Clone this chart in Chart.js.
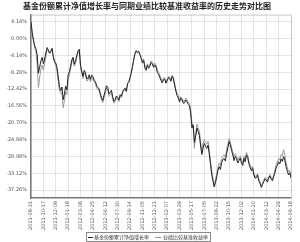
<!DOCTYPE html>
<html>
<head>
<meta charset="utf-8">
<script src="https://cdn.jsdelivr.net/npm/chart.js@4"></script>
<style>
    html, body { margin: 0; padding: 0; background: #fff; }
    #wrap { width: 300px; height: 242px; }
</style>
</head>
<body>
<div id="wrap"><canvas id="trendChart" width="300" height="242"></canvas></div>
<script>

const titleText = "基金份额累计净值增长率与同期业绩比较基准收益率的历史走势对比图";

const seriesNames = ["基金份额累计净值增长率", "业绩比较基准收益率"];

const xLabels = [
    "2011-08-31", "2011-10-17", "2011-12-09", "2012-01-18", "2012-03-08",
    "2012-04-25", "2012-06-12", "2012-07-30", "2012-09-14", "2012-11-05",
    "2012-12-21", "2013-02-07", "2013-03-29", "2013-05-17", "2013-07-05",
    "2013-08-22", "2013-10-15", "2013-12-02", "2014-01-20", "2014-03-12",
    "2014-04-29", "2014-06-18"
];

const yTicks = [4.14, 0, -4.14, -8.28, -12.42, -16.56, -20.70, -24.84, -28.98, -33.12, -37.26];

// fund cumulative NAV growth (%)
const fundValues = [
    4.1, 1.5, -0.5, -1.8, -2.5, -4.0, -8.5, -7.0, -5.5, -4.6,
    -6.2, -5.0, -3.5, -2.2, -2.8, -3.6, -3.2, -2.4, -4.4, -5.6,
    -6.0, -7.1, -9.5, -11.8, -12.8, -11.9, -15.0, -13.6, -11.7, -12.6,
    -9.0, -8.1, -6.8, -5.2, -4.6, -6.3, -5.4, -4.1, -3.0, -2.6,
    -6.5, -8.0, -9.3, -7.8, -8.4, -9.9, -9.8, -8.9, -10.0, -9.0,
    -9.3, -10.2, -10.5, -11.6, -12.0, -12.4, -13.5, -14.6, -15.2, -13.9,
    -12.8, -11.6, -12.0, -13.6, -13.2, -12.7, -14.4, -15.4, -15.0, -14.1,
    -14.5, -15.1, -13.8, -14.2, -13.0, -12.5, -12.2, -12.9, -11.0, -10.6,
    -9.5, -8.4, -6.8, -5.1, -3.6, -3.0, -3.5, -3.2, -4.0, -4.9,
    -6.0, -5.4, -7.2, -7.8, -6.6, -7.3, -6.8, -5.9, -6.2, -7.1,
    -6.5, -7.0, -8.3, -8.8, -9.5, -10.3, -10.9, -10.1, -10.0, -11.0,
    -10.4, -9.6, -9.8, -10.5, -9.3, -9.9, -11.5, -12.9, -14.0, -14.6,
    -15.6, -14.7, -15.0, -15.9, -15.8, -15.1, -15.5, -16.2, -16.5, -18.5,
    -22.0, -21.2, -25.5, -24.0, -22.0, -22.8, -23.8, -26.4, -28.5, -26.9,
    -25.8, -26.5, -27.0, -26.2, -28.5, -31.0, -33.5, -35.1, -36.5, -35.4,
    -34.0, -32.4, -31.5, -32.2, -30.5, -29.7, -29.5, -30.1, -28.2, -26.9,
    -25.3, -26.1, -27.5, -28.6, -30.0, -29.0, -29.5, -30.6, -30.0, -29.4,
    -30.6, -31.2, -29.5, -30.3, -28.6, -29.2, -30.8, -31.7, -32.5, -31.9,
    -33.5, -34.3, -34.2, -33.6, -35.0, -35.6, -36.6, -35.9, -35.2, -34.5,
    -34.8, -35.3, -34.3, -33.8, -34.6, -35.0, -34.0, -33.0, -31.8, -31.1,
    -30.3, -30.8, -29.6, -30.2, -29.0, -29.9, -31.5, -32.6, -33.5, -33.0,
    -34.3
];

// benchmark return (%)
const benchValues = [
    3.0, 0.6, -0.2, -2.4, -3.0, -6.5, -12.0, -9.5, -7.5, -6.5,
    -7.8, -6.3, -4.5, -2.8, -3.0, -3.6, -3.0, -2.5, -4.6, -6.0,
    -6.5, -7.9, -10.5, -12.7, -13.5, -13.3, -17.0, -15.2, -13.0, -13.8,
    -10.0, -8.9, -7.5, -5.8, -5.0, -6.8, -6.0, -4.7, -3.5, -3.1,
    -7.0, -8.5, -9.8, -8.4, -9.0, -10.4, -10.3, -9.5, -10.6, -9.6,
    -9.8, -10.7, -11.0, -12.1, -12.5, -12.9, -14.0, -15.2, -15.8, -14.5,
    -13.4, -12.2, -12.6, -14.2, -13.8, -13.3, -15.0, -15.9, -15.5, -14.5,
    -14.8, -15.5, -14.2, -14.5, -13.3, -12.8, -12.5, -13.1, -11.2, -10.9,
    -9.8, -8.6, -7.0, -5.3, -3.8, -3.0, -3.3, -3.0, -3.8, -4.6,
    -5.6, -5.0, -6.8, -7.4, -6.2, -6.8, -6.3, -5.5, -5.8, -6.6,
    -6.0, -6.5, -7.8, -8.3, -9.0, -9.8, -10.4, -9.7, -9.6, -10.6,
    -10.0, -9.3, -9.5, -10.2, -9.0, -9.5, -11.0, -12.4, -13.5, -14.0,
    -15.0, -14.3, -14.6, -15.4, -15.3, -14.6, -15.0, -15.7, -16.0, -17.5,
    -20.5, -21.8, -27.0, -23.5, -21.0, -21.9, -22.8, -25.4, -27.5, -25.9,
    -24.8, -25.5, -26.0, -25.2, -27.5, -30.0, -32.5, -34.4, -36.0, -34.7,
    -33.2, -31.6, -30.6, -31.2, -29.5, -28.8, -28.6, -29.2, -27.3, -26.1,
    -24.6, -25.4, -26.8, -27.9, -29.2, -28.3, -28.8, -29.9, -29.3, -28.8,
    -30.0, -30.6, -28.9, -29.7, -28.0, -28.6, -30.2, -31.1, -31.9, -31.4,
    -33.0, -33.9, -33.8, -33.2, -34.6, -35.2, -36.2, -35.5, -34.8, -34.1,
    -34.4, -34.9, -33.9, -33.4, -34.2, -34.6, -33.5, -32.3, -31.0, -30.3,
    -29.5, -29.9, -28.5, -28.8, -27.3, -28.6, -30.5, -31.7, -32.8, -32.4,
    -33.8
];

const labelStep = 10;

function toPoints(values){
    return values.map((v, i) => ({ x: i, y: v }));
}

// light top/right frame and the boxed legend under the axis labels
const framePlugin = {
    id: "framePlugin",
    afterDraw(chart){
        const c = chart.ctx;
        const a = chart.chartArea;

        c.save();
        c.strokeStyle = "#c8c8c8";
        c.lineWidth = 1;
        c.beginPath();
        c.moveTo(a.left, a.top + 0.5);
        c.lineTo(a.right + 0.5, a.top + 0.5);
        c.lineTo(a.right + 0.5, a.bottom);
        c.stroke();

        const lx = 86, ly = 232, lw = 124, lh = 9;
        c.strokeStyle = "#888";
        c.strokeRect(lx + 0.5, ly + 0.5, lw, lh);

        c.font = "5px 'Noto Sans CJK SC'";
        c.textBaseline = "middle";
        c.fillStyle = "#333";

        c.strokeStyle = "#222";
        c.beginPath();
        c.moveTo(88, ly + 5.5);
        c.lineTo(93, ly + 5.5);
        c.stroke();
        c.fillText(seriesNames[0], 94, ly + 5.5);

        c.strokeStyle = "#999";
        c.beginPath();
        c.moveTo(155, ly + 5.5);
        c.lineTo(161, ly + 5.5);
        c.stroke();
        c.fillText(seriesNames[1], 163, ly + 5.5);

        c.restore();
    }
};

new Chart(document.getElementById("trendChart"), {

    type: "line",

    data: {
        datasets: [
            {
                label: seriesNames[0],
                data: toPoints(fundValues),
                borderColor: "#222",
                borderWidth: 1,
                pointRadius: 0,
                tension: 0
            },
            {
                label: seriesNames[1],
                data: toPoints(benchValues),
                borderColor: "#9a9a9a",
                borderWidth: 1,
                pointRadius: 0,
                tension: 0
            }
        ]
    },

    options: {
        responsive: false,
        animation: false,
        layout: {
            padding: { left: 0, right: 6, top: 0, bottom: 10 }
        },
        plugins: {
            legend: { display: false },
            tooltip: { enabled: false },
            title: {
                display: true,
                text: titleText,
                color: "#222",
                font: { family: "'Noto Sans CJK SC'", size: 8, weight: "bold", lineHeight: 1.2 },
                padding: { top: 1, bottom: 4 }
            }
        },
        scales: {
            x: {
                type: "linear",
                min: 0,
                max: fundValues.length - 1,
                afterBuildTicks(scale){
                    scale.ticks = xLabels.map((l, i) => ({ value: i * labelStep }));
                },
                afterFit(scale){
                    scale.height = 34;
                },
                ticks: {
                    autoSkip: false,
                    minRotation: 90,
                    maxRotation: 90,
                    padding: 3,
                    color: "#555",
                    font: { family: "'DejaVu Sans'", size: 5 },
                    callback: (v) => xLabels[Math.round(v / labelStep)]
                },
                grid: {
                    color: "#bdbdbd",
                    lineWidth: 0.8,
                    drawTicks: false
                },
                border: {
                    color: "#777",
                    width: 1.5,
                    dash: [1, 1]
                }
            },
            y: {
                min: -39.2,
                max: 5.9,
                afterBuildTicks(scale){
                    scale.ticks = yTicks.map(v => ({ value: v }));
                },
                afterFit(scale){
                    scale.width = 31;
                },
                ticks: {
                    padding: 4,
                    color: "#555",
                    font: { family: "'DejaVu Sans'", size: 5 },
                    callback: (v) => v.toFixed(2) + "%"
                },
                grid: {
                    color: "#bdbdbd",
                    lineWidth: 0.8,
                    drawTicks: false
                },
                border: {
                    color: "#777",
                    width: 1.5,
                    dash: [1, 1]
                }
            }
        }
    },

    plugins: [framePlugin]

});

</script>
</body>
</html>
